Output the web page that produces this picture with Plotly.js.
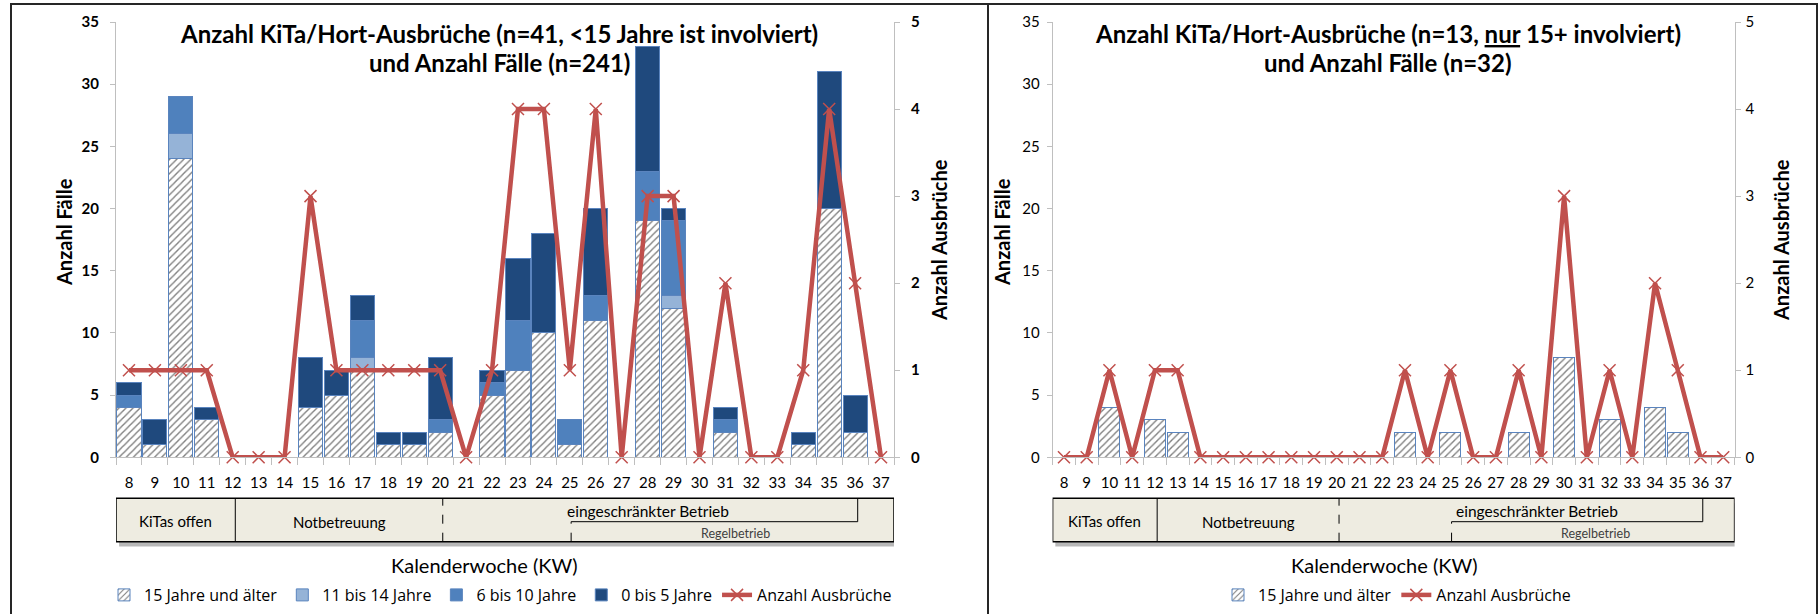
<!DOCTYPE html>
<html><head><meta charset="utf-8">
<script src="https://cdn.plot.ly/plotly-3.0.1.min.js"></script>
<style>html,body{margin:0;padding:0;background:#fff;} #chart{width:1820px;height:614px;}</style>
</head><body><div id="chart"></div>
<script>
// ---------- data ----------
const weeks = [8,9,10,11,12,13,14,15,16,17,18,19,20,21,22,23,24,25,26,27,28,29,30,31,32,33,34,35,36,37];
const weekLabels = ["8","9","10","11","12","13","14","15","16","17","18","19","20","21","22","23","24","25","26","27","28","29","30","31","32","33","34","35","36","37"];

// left chart: outbreaks where <15 years are involved
const leftAge15plus = [4,1,24,3,0,0,0,4,5,7,1,1,2,0,5,7,10,1,11,0,19,12,0,2,0,0,1,20,2,0];
const leftAge11to14 = [0,0,2,0,0,0,0,0,0,1,0,0,0,0,0,0,0,0,0,0,0,1,0,0,0,0,0,0,0,0];
const leftAge6to10  = [1,0,3,0,0,0,0,0,0,3,0,0,1,0,1,4,0,2,2,0,4,6,0,1,0,0,0,0,0,0];
const leftAge0to5   = [1,2,0,1,0,0,0,4,2,2,1,1,5,0,1,5,8,0,7,0,10,1,0,1,0,0,1,11,3,0];
const leftOutbreaks = [1,1,1,1,0,0,0,3,1,1,1,1,1,0,1,4,4,1,4,0,3,3,0,2,0,0,1,4,2,0];

// right chart: outbreaks with only 15+ involved
const rightAge15plus = [0,0,4,0,3,2,0,0,0,0,0,0,0,0,0,2,0,2,0,0,2,0,8,0,3,0,4,2,0,0];
const rightOutbreaks = [0,0,1,0,1,1,0,0,0,0,0,0,0,0,0,1,0,1,0,0,1,0,3,0,1,0,2,1,0,0];

const seriesNames = ["15 Jahre und älter","11 bis 14 Jahre","6 bis 10 Jahre","0 bis 5 Jahre","Anzahl Ausbrüche"];

// phases of KiTa operation (week boundaries)
const phaseOpenEnd = 12.1, phaseEmergencyEnd = 20.1, phaseRegularStart = 25.05, phaseRestrictedEnd = 36.1;

// ---------- styling ----------
const FONT = 'Lato, "Liberation Sans", sans-serif';
const LFONT = '"Open Sans", Lato, sans-serif';
const AX = '#BFBFBF';
const RED = '#C0504D';
const C_LIGHT = '#95B3D7', C_MID = '#4F81BD', C_DARK = '#1F497D';
const OUTLINE = {color: '#5A84BE', width: 1};
const nz = a => a.map(v => v === 0 ? null : v);
const boundaries = weeks.map(w => w - 0.5).concat([weeks[weeks.length-1] + 0.5]);

function bar(y, name, color, xa, ya, lg, hatched) {
  const m = {color: color, line: OUTLINE};
  if (hatched) m.pattern = {shape: '/', bgcolor: '#FFFFFF', fgcolor: '#808080', size: 5, solidity: 0.28};
  return {type: 'bar', x: weeks, y: nz(y), name: name, marker: m, xaxis: xa, yaxis: ya, legend: lg};
}
function line(y, xa, ya, lg) {
  return {type: 'scatter', mode: 'lines+markers', x: weeks, y: y, name: seriesNames[4], xaxis: xa, yaxis: ya, legend: lg,
    cliponaxis: false,
    line: {color: RED, width: 4.5},
    marker: {symbol: 'x-thin', size: 12, color: RED, line: {color: RED, width: 1.5}}};
}

const traces = [
  bar(leftAge15plus, seriesNames[0], '#FFFFFF', 'x', 'y', 'legend', true),
  bar(leftAge11to14, seriesNames[1], C_LIGHT, 'x', 'y', 'legend', false),
  bar(leftAge6to10, seriesNames[2], C_MID, 'x', 'y', 'legend', false),
  bar(leftAge0to5, seriesNames[3], C_DARK, 'x', 'y', 'legend', false),
  line(leftOutbreaks, 'x', 'y2', 'legend'),
  bar(rightAge15plus, seriesNames[0], '#FFFFFF', 'x2', 'y3', 'legend2', true),
  line(rightOutbreaks, 'x2', 'y4', 'legend2')
];

const W = 1820, H = 614;
const px = v => v / W, py = v => 1 - v / H;
const yDom = [py(457.3), py(22)];

function xAxis(domain, anchor) {
  return {domain: domain, anchor: anchor, range: [7.5, 37.5], tickmode: 'array', tickvals: weeks, ticktext: weekLabels,
    ticks: '', showline: true, linecolor: AX, linewidth: 1, zeroline: false, showgrid: false,
    ticklabelstandoff: 12, tickfont: {family: FONT, size: 15, color: '#000'},
    minor: {tickmode: 'array', tickvals: boundaries, ticks: 'outside', ticklen: 7, tickcolor: AX, tickwidth: 1, showgrid: false}};
}
function yAxis(anchor, side, overlay, max, dtick, bold, standoff) {
  const a = {domain: yDom, anchor: anchor, side: side, range: [0, max], tickmode: 'linear', tick0: 0, dtick: dtick,
    ticks: 'outside', ticklen: 5, tickcolor: AX, showline: true, linecolor: AX, linewidth: 1,
    zeroline: false, showgrid: false, ticklabelstandoff: standoff,
    tickfont: {family: FONT, size: 15, color: '#000', weight: bold ? 'bold' : 'normal'}};
  if (overlay) a.overlaying = overlay;
  return a;
}

const ann = [];
function txt(text, x, y, size, opts) {
  ann.push(Object.assign({text: text, x: x, y: y, xref: 'paper', yref: 'paper', showarrow: false,
    xanchor: 'center', yanchor: 'middle', font: {family: FONT, size: size, color: '#000'}}, opts || {}));
}
// titles
txt('<b>Anzahl KiTa/Hort-Ausbrüche (n=41, &lt;15 Jahre ist involviert)</b>', px(499), py(33), 24);
txt('<b>und Anzahl Fälle (n=241)</b>', px(499), py(62), 24);
txt('<b>Anzahl KiTa/Hort-Ausbrüche (n=13, <u>nur</u> 15+ involviert)</b>', px(1388), py(33), 24);
txt('<b>und Anzahl Fälle (n=32)</b>', px(1388), py(62), 24);
// axis titles
txt('<b>Anzahl Fälle</b>', px(64), py(232), 20, {textangle: -90});
txt('<b>Anzahl Ausbrüche</b>', px(939), py(240), 20, {textangle: -90});
txt('<b>Anzahl Fälle</b>', px(1002), py(232), 20, {textangle: -90});
txt('<b>Anzahl Ausbrüche</b>', px(1781), py(240), 20, {textangle: -90});
txt('Kalenderwoche (KW)', px(484), py(565), 20);
txt('Kalenderwoche (KW)', px(1384.5), py(565), 20);

// phase table
const shapes = [];
const boxTop = py(498.3), boxBot = py(541.7), bracketY = py(521.7);
function table(xa, restrictedLabelX) {
  shapes.push({type: 'rect', xref: xa, yref: 'paper', x0: 7.62, x1: 37.62, y0: boxBot - 0.008, y1: boxTop - 0.008,
    fillcolor: 'rgba(0,0,0,0.28)', line: {width: 0}, layer: 'above'});
  shapes.push({type: 'rect', xref: xa, yref: 'paper', x0: 7.5, x1: 37.5, y0: boxBot, y1: boxTop,
    fillcolor: '#EEECE1', line: {color: '#000', width: 1.5}, layer: 'above'});
  shapes.push({type: 'line', xref: xa, yref: 'paper', x0: phaseOpenEnd, x1: phaseOpenEnd, y0: boxBot, y1: boxTop, line: {color: '#000', width: 1}, layer: 'above'});
  shapes.push({type: 'line', xref: xa, yref: 'paper', x0: phaseEmergencyEnd, x1: phaseEmergencyEnd, y0: boxBot, y1: boxTop, line: {color: '#000', width: 1, dash: 'dash'}, layer: 'above'});
  shapes.push({type: 'line', xref: xa, yref: 'paper', x0: phaseRegularStart, x1: phaseRegularStart, y0: boxBot, y1: bracketY, line: {color: '#000', width: 1, dash: 'dash'}, layer: 'above'});
  shapes.push({type: 'line', xref: xa, yref: 'paper', x0: phaseRegularStart, x1: phaseRestrictedEnd, y0: bracketY, y1: bracketY, line: {color: '#000', width: 1}, layer: 'above'});
  shapes.push({type: 'line', xref: xa, yref: 'paper', x0: phaseRestrictedEnd, x1: phaseRestrictedEnd, y0: bracketY, y1: boxTop, line: {color: '#000', width: 1}, layer: 'above'});
  const o = {xref: xa, yref: 'paper', showarrow: false, xanchor: 'center', yanchor: 'middle'};
  ann.push(Object.assign({text: 'KiTas offen', x: (7.5 + phaseOpenEnd) / 2, y: py(521), font: {family: FONT, size: 15, color: '#000'}}, o));
  ann.push(Object.assign({text: 'Notbetreuung', x: (phaseOpenEnd + phaseEmergencyEnd) / 2, y: py(522), font: {family: FONT, size: 15, color: '#000'}}, o));
  ann.push(Object.assign({text: 'eingeschränkter Betrieb', x: restrictedLabelX, y: py(510.7), font: {family: FONT, size: 15.5, color: '#000'}}, o));
  ann.push(Object.assign({text: 'Regelbetrieb', x: 31.4, y: py(533.3), font: {family: FONT, size: 12.5, color: '#404040'}}, o));
}
table('x', 28.0);
table('x2', 28.8);

// panel borders
shapes.push({type: 'rect', xref: 'paper', yref: 'paper', x0: px(11), x1: px(988), y0: -0.05, y1: py(4), line: {color: '#262626', width: 2}, fillcolor: 'rgba(0,0,0,0)'});
shapes.push({type: 'rect', xref: 'paper', yref: 'paper', x0: px(988), x1: px(1817), y0: -0.05, y1: py(4), line: {color: '#262626', width: 2}, fillcolor: 'rgba(0,0,0,0)'});

const legendBase = {orientation: 'h', yanchor: 'middle', y: py(595), xanchor: 'left', traceorder: 'normal',
  bgcolor: 'rgba(0,0,0,0)', font: {family: LFONT, size: 16, color: '#000'}};

const layout = {
  width: W, height: H, margin: {l: 0, r: 0, t: 0, b: 0},
  paper_bgcolor: '#FFFFFF', plot_bgcolor: 'rgba(0,0,0,0)',
  barmode: 'stack', bargap: 0.07,
  font: {family: FONT, color: '#000'},
  xaxis: xAxis([px(116), px(894)], 'y'),
  yaxis: yAxis('x', 'left', null, 35, 5, true, 8),
  yaxis2: yAxis('x', 'right', 'y', 5, 1, true, 8),
  xaxis2: xAxis([px(1052.6), px(1734.6)], 'y3'),
  yaxis3: yAxis('x2', 'left', null, 35, 5, false, 4),
  yaxis4: yAxis('x2', 'right', 'y3', 5, 1, false, 2),
  legend: Object.assign({x: px(104)}, legendBase),
  legend2: Object.assign({x: px(1218)}, legendBase),
  showlegend: true,
  annotations: ann,
  shapes: shapes
};

Plotly.newPlot('chart', traces, layout, {displayModeBar: false, staticPlot: true});
</script>
</body></html>
